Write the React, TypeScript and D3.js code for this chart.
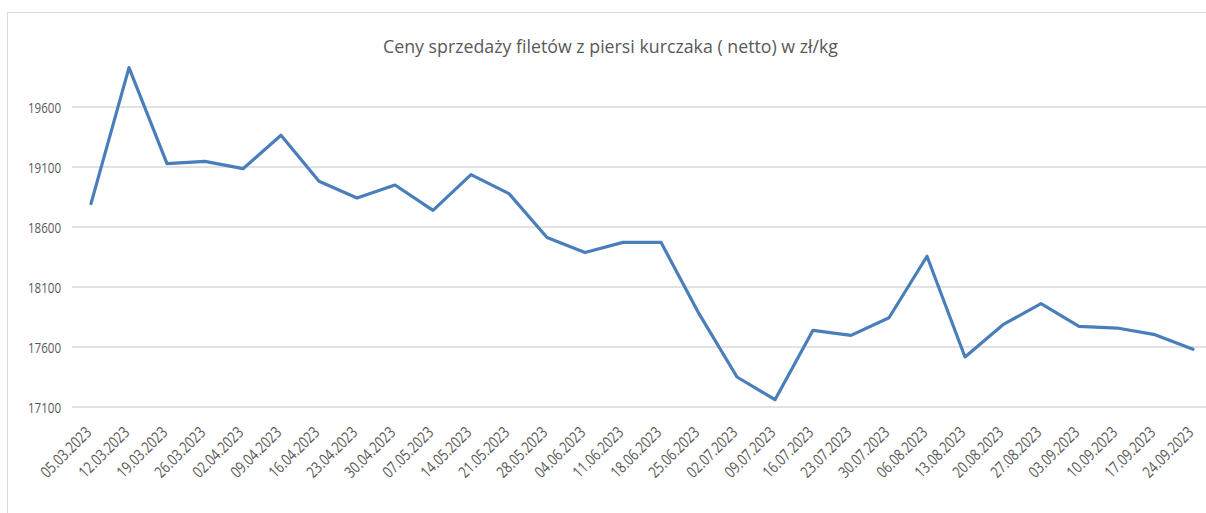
import React from "react";
import * as d3 from "d3";

const dates = [
  "05.03.2023", "12.03.2023", "19.03.2023", "26.03.2023", "02.04.2023", "09.04.2023",
  "16.04.2023", "23.04.2023", "30.04.2023", "07.05.2023", "14.05.2023", "21.05.2023",
  "28.05.2023", "04.06.2023", "11.06.2023", "18.06.2023", "25.06.2023", "02.07.2023",
  "09.07.2023", "16.07.2023", "23.07.2023", "30.07.2023", "06.08.2023", "13.08.2023",
  "20.08.2023", "27.08.2023", "03.09.2023", "10.09.2023", "17.09.2023", "24.09.2023",
];

const prices = [
  18795, 19928, 19128, 19147, 19086, 19364,
  18981, 18842, 18950, 18739, 19037, 18878,
  18512, 18387, 18472, 18472, 17878, 17350,
  17161, 17739, 17697, 17844, 18356, 17517,
  17786, 17961, 17772, 17758, 17703, 17581,
];

const yTicks = [17100, 17600, 18100, 18600, 19100, 19600];

const title = "Ceny sprzedaży filetów z piersi kurczaka ( netto) w zł/kg";

const W = 1206;
const H = 513;
const FONT = "'Open Sans', 'Liberation Sans', sans-serif";
const TEXT = "#595959";

export default function App() {
  const x = d3.scalePoint<string>().domain(dates).range([91, 1193]);
  const y = d3.scaleLinear().domain([17100, 19600]).range([407, 107]);
  const line = d3
    .line<number>()
    .x((_, i) => x(dates[i]) as number)
    .y((d) => y(d));

  return (
    <svg
      width={W}
      height={H}
      style={{ position: "absolute", left: 0, top: 0, background: "#fff" }}
    >
      <rect x={7.5} y={12.5} width={1220} height={520} fill="#fff" stroke="#d9d9d9" strokeWidth={1} />
      <text
        x={610.5}
        y={53}
        textAnchor="middle"
        fontFamily={FONT}
        fontSize={19}
        fill={TEXT}
        textLength={455}
        lengthAdjust="spacingAndGlyphs"
      >
        {title}
      </text>
      {yTicks.map((t) => (
        <g key={t}>
          <line x1={72} x2={1206} y1={y(t)} y2={y(t)} stroke="#d9d9d9" strokeWidth={1.5} />
          <text
            x={61}
            y={y(t) + 5.5}
            textAnchor="end"
            fontFamily={FONT}
            fontSize={15}
            fill={TEXT}
            textLength={33}
            lengthAdjust="spacingAndGlyphs"
          >
            {t}
          </text>
        </g>
      ))}
      <path
        d={line(prices) || ""}
        fill="none"
        stroke="#4a7ebb"
        strokeWidth={3.2}
        strokeLinejoin="round"
        strokeLinecap="round"
      />
      {dates.map((d) => (
        <text
          key={d}
          transform={`translate(${(x(d) as number) - 7},${425}) rotate(-45)`}
          textAnchor="end"
          dy="0.75em"
          fontFamily={FONT}
          fontSize={16}
          fill={TEXT}
          textLength={64}
          lengthAdjust="spacingAndGlyphs"
        >
          {d}
        </text>
      ))}
    </svg>
  );
}
